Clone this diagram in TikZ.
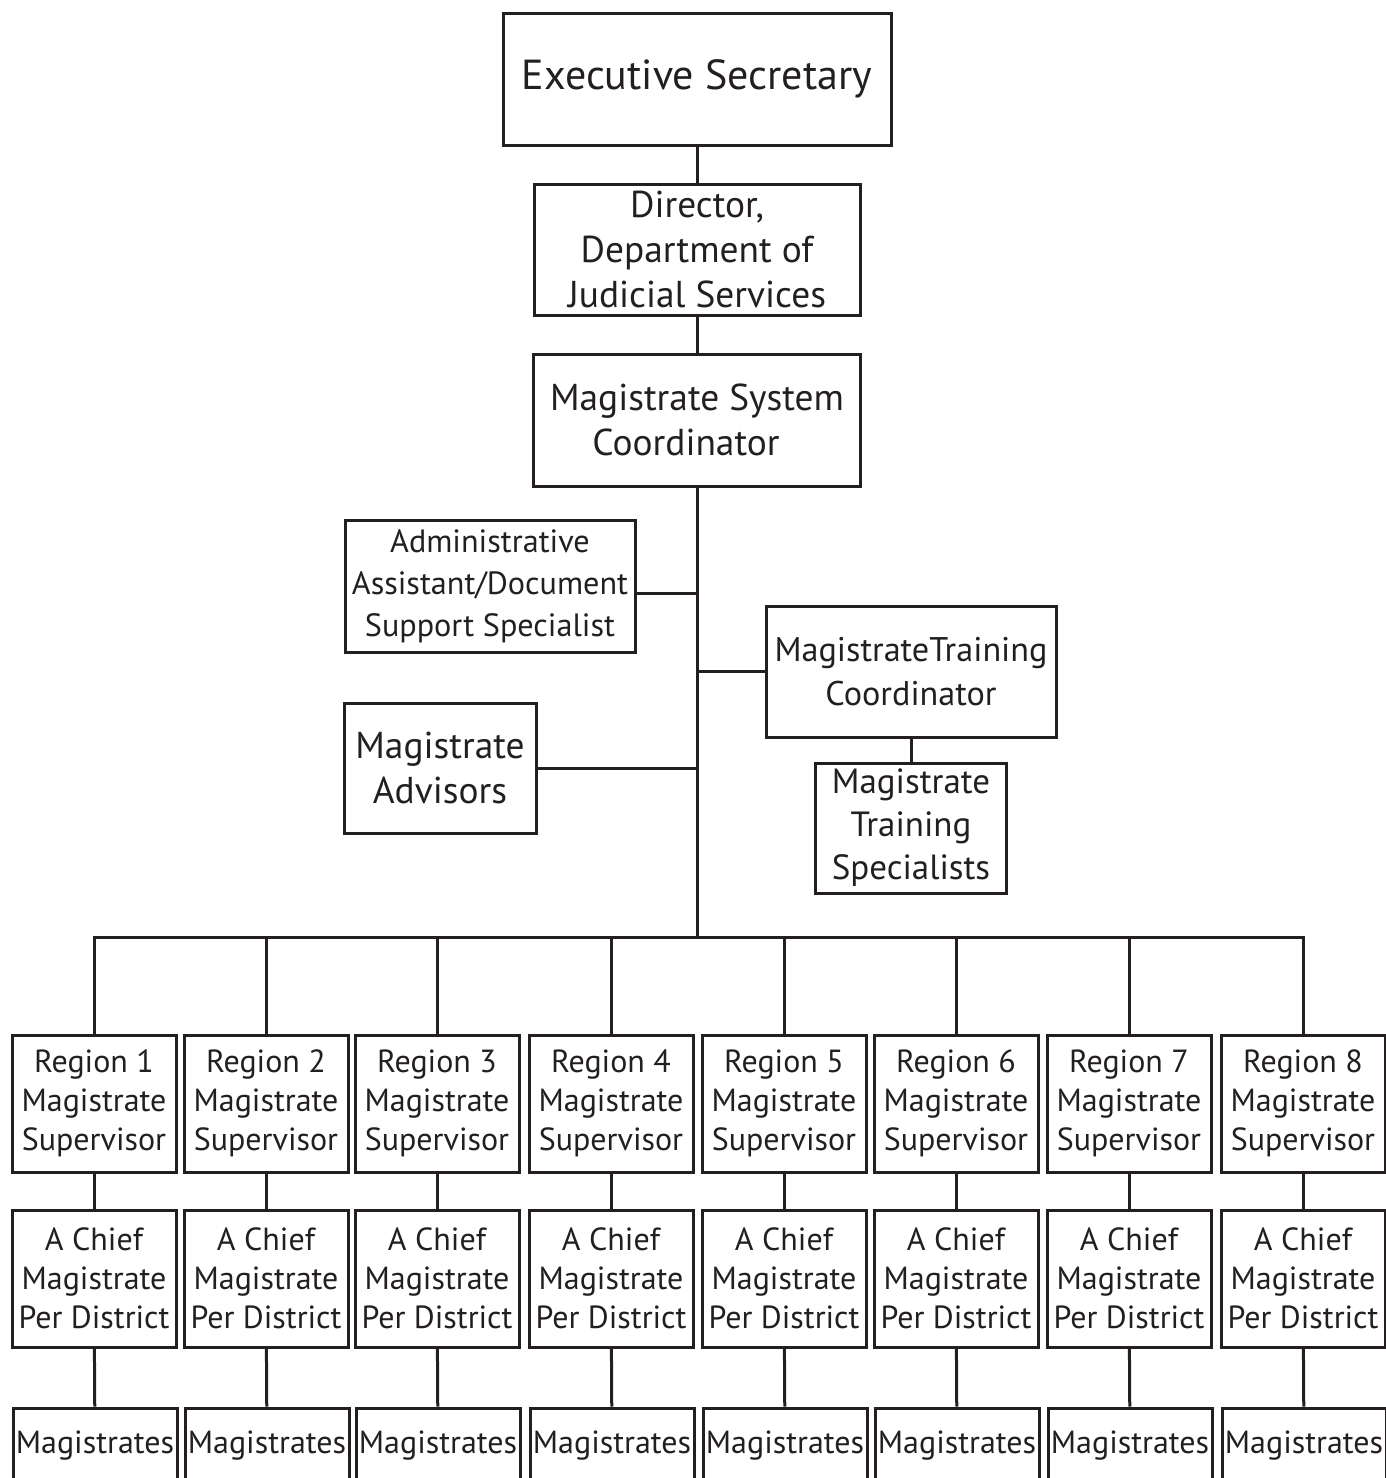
\documentclass[tikz,border=0pt]{standalone}
\usepackage{fontspec}
\setmainfont{PT Sans}
\definecolor{ink}{HTML}{231F20}
\begin{document}
\begin{tikzpicture}[x=0.5pt, y=-0.5pt, line width=1.5pt, color=ink]
    \tikzstyle{box} = [draw, inner sep=0pt, align=center, font=\fontsize{16}{19.5}\selectfont]
    \tikzstyle{upper} = [box, font=\fontsize{18.7}{22.5}\selectfont]
    \useasboundingbox (0,0) rectangle (1386,1478);
    % top of the chain
    \node[upper, minimum width=194pt, minimum height=66pt, font=\fontsize{21}{25}\selectfont] (exec) at (697,79) {Executive Secretary};
    \node[upper, minimum width=163pt, minimum height=65.5pt] (dir) at (697,249.5) {Director,\\Department of\\Judicial Services};
    \node[upper, minimum width=163.5pt, minimum height=66pt] (msc) at (697,420) {Magistrate System\\Coordinator\hspace*{11pt}};
    % staff beside the trunk
    \node[upper, minimum width=145pt, minimum height=66pt, font=\fontsize{16.1}{21}\selectfont] (admin) at (490,586) {Administrative\\Assistant/Document\\Support Specialist};
    \node[upper, minimum width=145pt, minimum height=65.5pt, font=\fontsize{17.1}{22}\selectfont] (mtc) at (911,671.5) {MagistrateTraining\\Coordinator};
    \node[upper, minimum width=95.5pt, minimum height=65pt, font=\fontsize{17.5}{21.5}\selectfont] (mts) at (911,828) {Magistrate\\Training\\Specialists};
    \node[upper, minimum width=96pt, minimum height=65pt] (adv) at (440,768) {Magistrate\\Advisors};
    \coordinate (bus) at (697,937);
    \coordinate (adminjoin) at (697,593);
    \draw (exec) -- (dir);
    \draw (dir) -- (msc);
    \draw (msc) -- (bus);
    \draw (admin.east |- adminjoin) -- (adminjoin);
    \draw (mtc.west) -- (mtc.west -| bus);
    \draw (adv.east) -- (adv.east -| bus);
    \draw (mtc) -- (mts);
    % the eight regions
    \foreach \i/\x in {1/94, 2/266, 3/437, 4/611, 5/784, 6/956, 7/1129, 8/1303} {
        \node[box, minimum width=82pt, minimum height=68.5pt] (reg\i) at (\x,1103.5) {Region \i\\Magistrate\\Supervisor};
        \node[box, minimum width=82pt, minimum height=68.5pt] (chief\i) at (\x,1278.5) {A Chief\\Magistrate\\Per District};
        \node[box, minimum width=82pt, minimum height=38pt] (mag\i) at (\x+1,1446) {Magistrates};
        \draw (reg\i.north) |- (bus);
        \draw (reg\i) -- (chief\i);
        \draw (chief\i) -- (mag\i);
    }
\end{tikzpicture}
\end{document}
